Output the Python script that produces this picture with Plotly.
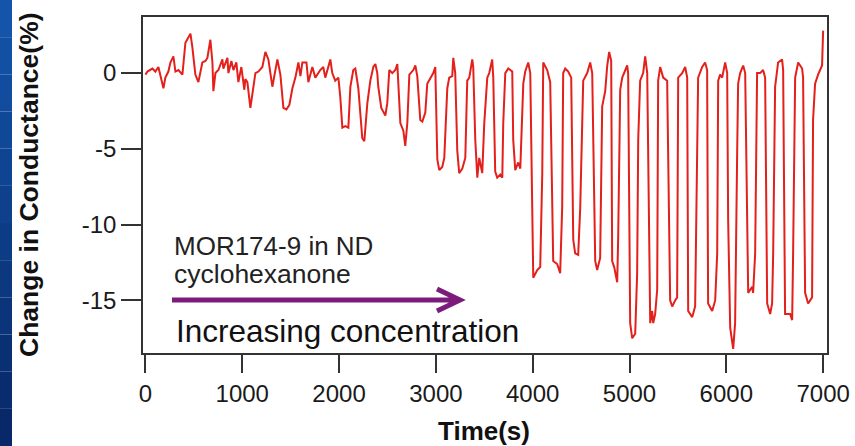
import plotly.graph_objects as go

# ---------------- data ----------------
time_s = [
    0, 21, 72, 103, 134, 155, 186, 206, 237, 258, 289, 310, 341, 382, 413, 465, 485, 516, 547, 588,
    620, 640, 671, 692, 702, 723, 754, 795, 805, 847, 857, 888, 909, 939, 960, 991, 1022, 1032, 1053, 1084,
    1115, 1136, 1167, 1208, 1239, 1270, 1311, 1342, 1363, 1394, 1425, 1456, 1487, 1518, 1549, 1580, 1601, 1621, 1663, 1683,
    1724, 1755, 1806, 1837, 1858, 1910, 1930, 1961, 1993,
    2013, 2034, 2065, 2096, 2117, 2147, 2168, 2199, 2240, 2261, 2292, 2323, 2354, 2375, 2395, 2405, 2436, 2457, 2478, 2498,
    2519, 2550, 2581, 2602, 2633, 2664, 2684, 2705, 2726, 2767, 2788, 2808, 2839, 2860, 2891, 2911, 2942, 2973, 2994, 3015,
    3035, 3066, 3087, 3118, 3138, 3169, 3180, 3200, 3221, 3241, 3273, 3304, 3324, 3345, 3376, 3386, 3407, 3428, 3448, 3479,
    3500, 3531, 3551, 3582, 3593, 3613, 3634, 3665, 3686, 3696, 3717, 3748, 3789, 3799, 3820, 3851, 3872, 3903, 3923, 3954,
    3975, 3995, 4006, 4047, 4078, 4099, 4109, 4150, 4181, 4212, 4253, 4284, 4305, 4315, 4336, 4367, 4398, 4419, 4439, 4470,
    4491, 4522, 4563, 4594, 4615, 4646, 4666, 4697, 4718, 4749, 4770, 4790, 4811, 4821, 4842, 4873, 4883, 4904, 4925, 4976,
    4986, 5007, 5028, 5059, 5079, 5090, 5110, 5141, 5162, 5183, 5214, 5234, 5245, 5265, 5286, 5296, 5317, 5348, 5389, 5420,
    5441, 5472, 5492, 5503, 5544, 5575, 5596, 5606, 5648, 5678, 5699, 5709, 5751, 5781, 5802, 5812, 5854, 5885, 5906, 5916,
    5936, 5957, 5988, 6009, 6019, 6040, 6071, 6091, 6112, 6122, 6143, 6174, 6195, 6215, 6226, 6267, 6277, 6298, 6318, 6349,
    6380, 6401, 6422, 6453, 6473, 6484, 6504, 6535, 6576, 6587, 6607, 6659, 6680, 6690, 6711, 6742, 6783, 6793, 6814, 6845,
    6886, 6896, 6917, 6948, 6989, 7000,
]
change_pct = [
    -0.1, 0.1, 0.3, 0.1, 0.4, -0.1, -1.0, -0.3, 0.1, 0.7, 1.1, 0.1, 0.2, -0.1, 2.0, 2.6, 1.7, -0.1, -0.6, 0.7,
    0.8, 1.0, 2.2, 0.7, -1.2, 0.0, 0.2, 0.9, 0.3, 1.0, 0.0, 0.8, 0.2, 0.7, -0.6, 0.4, -1.1, -0.4, -0.6, -2.3,
    -0.9, 0.0, 0.1, 0.4, 1.4, 0.9, -0.9, 0.2, 0.9, -0.1, -2.3, -2.4, -2.1, -1.0, -0.3, 0.7, -0.2, 0.7, 0.7, -0.6,
    0.4, -0.3, 0.2, 0.4, -0.3, 0.9, 0.0, -0.5, -0.3,
    -1.6, -3.6, -3.5, -3.6, -0.9, 0.2, 0.3, -1.0, -4.3, -4.5, -2.0, -0.5, 0.4, 0.6, 0.0, -0.9, -2.3, -2.6, -2.8, -2.0,
    0.2, 0.0, 0.2, 0.6, -3.3, -3.8, -4.8, -3.3, -0.1, 0.2, 0.5, -0.2, -3.1, -3.2, -2.6, -0.7, -0.3, 0.0, 0.4, -5.7,
    -6.4, -6.2, -5.6, -1.0, -0.3, -0.2, 1.0, 0.0, -5.1, -6.6, -6.3, -5.6, -0.5, -0.3, 0.9, 0.4, -4.4, -6.9, -5.6, -6.6,
    -3.3, -0.3, 0.0, 0.9, -0.3, -6.5, -6.9, -6.7, -6.9, -3.3, 0.0, 0.3, 0.1, -4.4, -6.4, -5.9, -6.3, -0.7, 0.1, 0.7,
    0.0, -10.2, -13.5, -13.0, -12.8, -6.6, 0.7, 0.2, -0.6, -12.4, -12.6, -13.2, -8.8, 0.0, 0.3, 0.1, -0.3, -11.0, -11.9, -12.0,
    -8.9, -0.5, 0.0, 0.7, 0.0, -12.4, -13.0, -12.2, -2.2, -1.2, 0.5, 1.4, 0.8, -12.4, -12.8, -13.8, -10.9, -1.1, -0.3, 0.5,
    0.0, -16.5, -17.5, -17.2, -13.2, -4.4, -0.5, 0.0, 1.1, 0.0, -16.5, -15.7, -16.5, -15.9, -14.3, -0.5, 0.4, -0.3, -0.5, -15.0,
    -15.4, -15.0, -14.8, -0.3, 0.0, 0.4, -0.3, -15.7, -16.1, -15.4, -2.2, -0.3, 0.4, 0.7, 0.2, -15.2, -15.7, -15.0, -11.9, -0.5,
    -0.1, -0.3, 0.7, 0.0, -9.7, -16.8, -18.2, -16.5, -5.3, -0.7, 0.0, 0.5, 0.0, -9.7, -14.5, -14.1, -14.5, -11.9, 0.0, 0.0,
    0.2, -0.3, -15.2, -15.9, -15.2, -11.9, -0.9, 0.7, 0.9, 0.2, -15.9, -15.9, -16.3, -11.9, -0.3, 0.7, 0.3, -0.3, -14.5, -15.2,
    -14.8, -3.1, -0.7, -0.1, 0.5, 2.8,
]

x_tick_vals = [0, 1000, 2000, 3000, 4000, 5000, 6000, 7000]
x_tick_text = ["0", "1000", "2000", "3000", "4000", "5000", "6000", "7000"]
y_tick_vals = [0, -5, -10, -15]
y_tick_text = ["0", "-5", "-10", "-15"]

# ---------------- figure ----------------
W, H = 855, 446
L, R, T, B = 143, 28, 17, 93
pw, ph = W - L - R, H - T - B


def px(xp):
    return (xp - L) / pw


def py(yp):
    return (H - B - yp) / ph


FONT = "Liberation Sans, Arial, Helvetica, sans-serif"

fig = go.Figure()
fig.add_trace(go.Scatter(
    x=time_s, y=change_pct, mode="lines",
    line=dict(color="#e3201b", width=2),
    hoverinfo="skip", showlegend=False,
))

axis_common = dict(
    showline=True, mirror=True, linecolor="#333333", linewidth=1.5,
    ticks="outside", tickwidth=1.5, tickcolor="#333333",
    showgrid=False, zeroline=False, automargin=False,
    tickfont=dict(family=FONT, size=24, color="#1a1a1a"),
)

fig.update_xaxes(range=[-25, 7040], tickvals=x_tick_vals, ticktext=x_tick_text,
                 ticklen=18, **axis_common)
fig.update_yaxes(range=[-18.47, 3.7], tickvals=y_tick_vals, ticktext=y_tick_text,
                 ticklen=20, **axis_common)

annotations = [
    dict(text="<b>Change in Conductance(%)</b>", textangle=-90, x=px(29), y=py(185),
         font=dict(family=FONT, size=26.5, color="#111111")),
    dict(text="<b>Time(s)</b>", x=px(484), y=py(431),
         font=dict(family=FONT, size=26, color="#111111")),
    dict(text="MOR174-9 in ND", x=px(172), y=py(246), xanchor="left",
         font=dict(family=FONT, size=26, color="#222222")),
    dict(text="cyclohexanone", x=px(172), y=py(274), xanchor="left",
         font=dict(family=FONT, size=26.5, color="#222222")),
    dict(text="Increasing concentration", x=px(174), y=py(331), xanchor="left",
         font=dict(family=FONT, size=31.5, color="#111111")),
]
for a in annotations:
    a.update(xref="paper", yref="paper", showarrow=False)
    a.setdefault("xanchor", "center")
    a.setdefault("yanchor", "middle")

shapes = []
# arrow
shapes.append(dict(
    type="path", xref="paper", yref="paper",
    path=(f"M {px(172)},{py(300)} L {px(457)},{py(300)} "
          f"M {px(437)},{py(289)} L {px(460)},{py(300)} L {px(437)},{py(311)}"),
    line=dict(color="#7b1c7d", width=5),
))
# blue slide strip on the left edge (vertical gradient)
top_c = (20, 84, 170)
bot_c = (8, 40, 105)
n = 12
for i in range(n):
    f = i / (n - 1)
    c = tuple(int(top_c[k] + (bot_c[k] - top_c[k]) * f) for k in range(3))
    shapes.append(dict(
        type="rect", xref="paper", yref="paper", layer="above",
        x0=px(0), x1=px(12), y0=py(H * (i + 1) / n), y1=py(H * i / n),
        line=dict(width=0), fillcolor=f"rgb{c}",
    ))

fig.update_layout(
    width=W, height=H,
    margin=dict(l=L, r=R, t=T, b=B, autoexpand=False),
    paper_bgcolor="white", plot_bgcolor="white",
    annotations=annotations, shapes=shapes,
    showlegend=False,
)

fig.write_html(
    "out.html",
    config={"displayModeBar": False, "responsive": False},
    post_script=(
        "document.documentElement.style.margin='0px';"
        "document.body.style.margin='0px';document.body.style.padding='0px';"
        "document.body.style.overflow='hidden';"
        "var gd=document.getElementById('{plot_id}');"
        "Plotly.relayout(gd,{width:855,height:446});"
    ),
)
